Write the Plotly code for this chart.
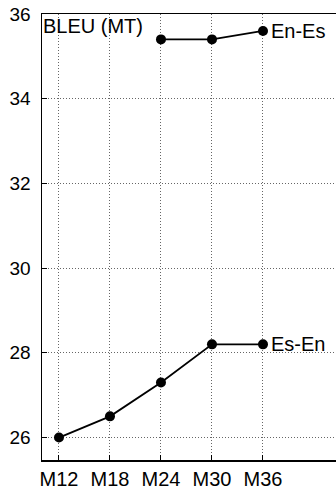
import plotly.graph_objects as go

categories = ["M12", "M18", "M24", "M30", "M36"]
es_en = [26.0, 26.5, 27.3, 28.2, 28.2]
en_es = [None, None, 35.4, 35.4, 35.6]
y_ticks = [26, 28, 30, 32, 34, 36]

xi = list(range(len(categories)))
FONT = "Liberation Sans, Arial, sans-serif"

fig = go.Figure()
for vals in (es_en, en_es):
    fig.add_trace(go.Scatter(
        x=xi, y=vals, mode="lines+markers",
        line=dict(color="black", width=1.8),
        marker=dict(color="black", size=10),
        showlegend=False, connectgaps=False, hoverinfo="skip",
    ))

fig.add_annotation(x=4, y=en_es[-1], text="En-Es", xref="x", yref="y",
                   xanchor="left", yanchor="middle", xshift=6, showarrow=False,
                   font=dict(size=20, color="black", family=FONT))
fig.add_annotation(x=4, y=es_en[-1], text="Es-En", xref="x", yref="y",
                   xanchor="left", yanchor="middle", xshift=6, showarrow=False,
                   font=dict(size=20, color="black", family=FONT))
fig.add_annotation(x=0, y=1, text="BLEU (MT)", xref="paper", yref="paper",
                   xanchor="left", yanchor="top", xshift=-1, yshift=1, showarrow=False,
                   font=dict(size=20, color="black", family=FONT))

fig.update_xaxes(
    range=[-0.333, 5.608], tickvals=xi, ticktext=categories,
    showline=True, linecolor="black", linewidth=1.5, mirror=True,
    ticks="inside", ticklen=5, tickcolor="black",
    showgrid=True, gridcolor="#666666", griddash="1px,2px", gridwidth=1,
    zeroline=False, ticklabelstandoff=0, automargin=False,
    tickfont=dict(size=20, color="black", family=FONT),
)
fig.update_yaxes(
    range=[25.47, 36.0], tickvals=y_ticks,
    showline=True, linecolor="black", linewidth=1.5,
    ticks="inside", ticklen=5, tickcolor="black",
    showgrid=True, gridcolor="#666666", griddash="1px,2px", gridwidth=1,
    zeroline=False, ticklabelstandoff=6, automargin=False,
    tickfont=dict(size=19, color="black", family=FONT),
)
fig.update_layout(
    width=345, height=489,
    margin=dict(l=42, r=0, t=14, b=29),
    plot_bgcolor="white", paper_bgcolor="white",
    font=dict(family=FONT, color="black"),
    hovermode=False,
)
fig.write_html("out.html", config={"displayModeBar": False, "staticPlot": True},
               post_script="document.body.style.margin='0';document.body.style.overflow='hidden';")
